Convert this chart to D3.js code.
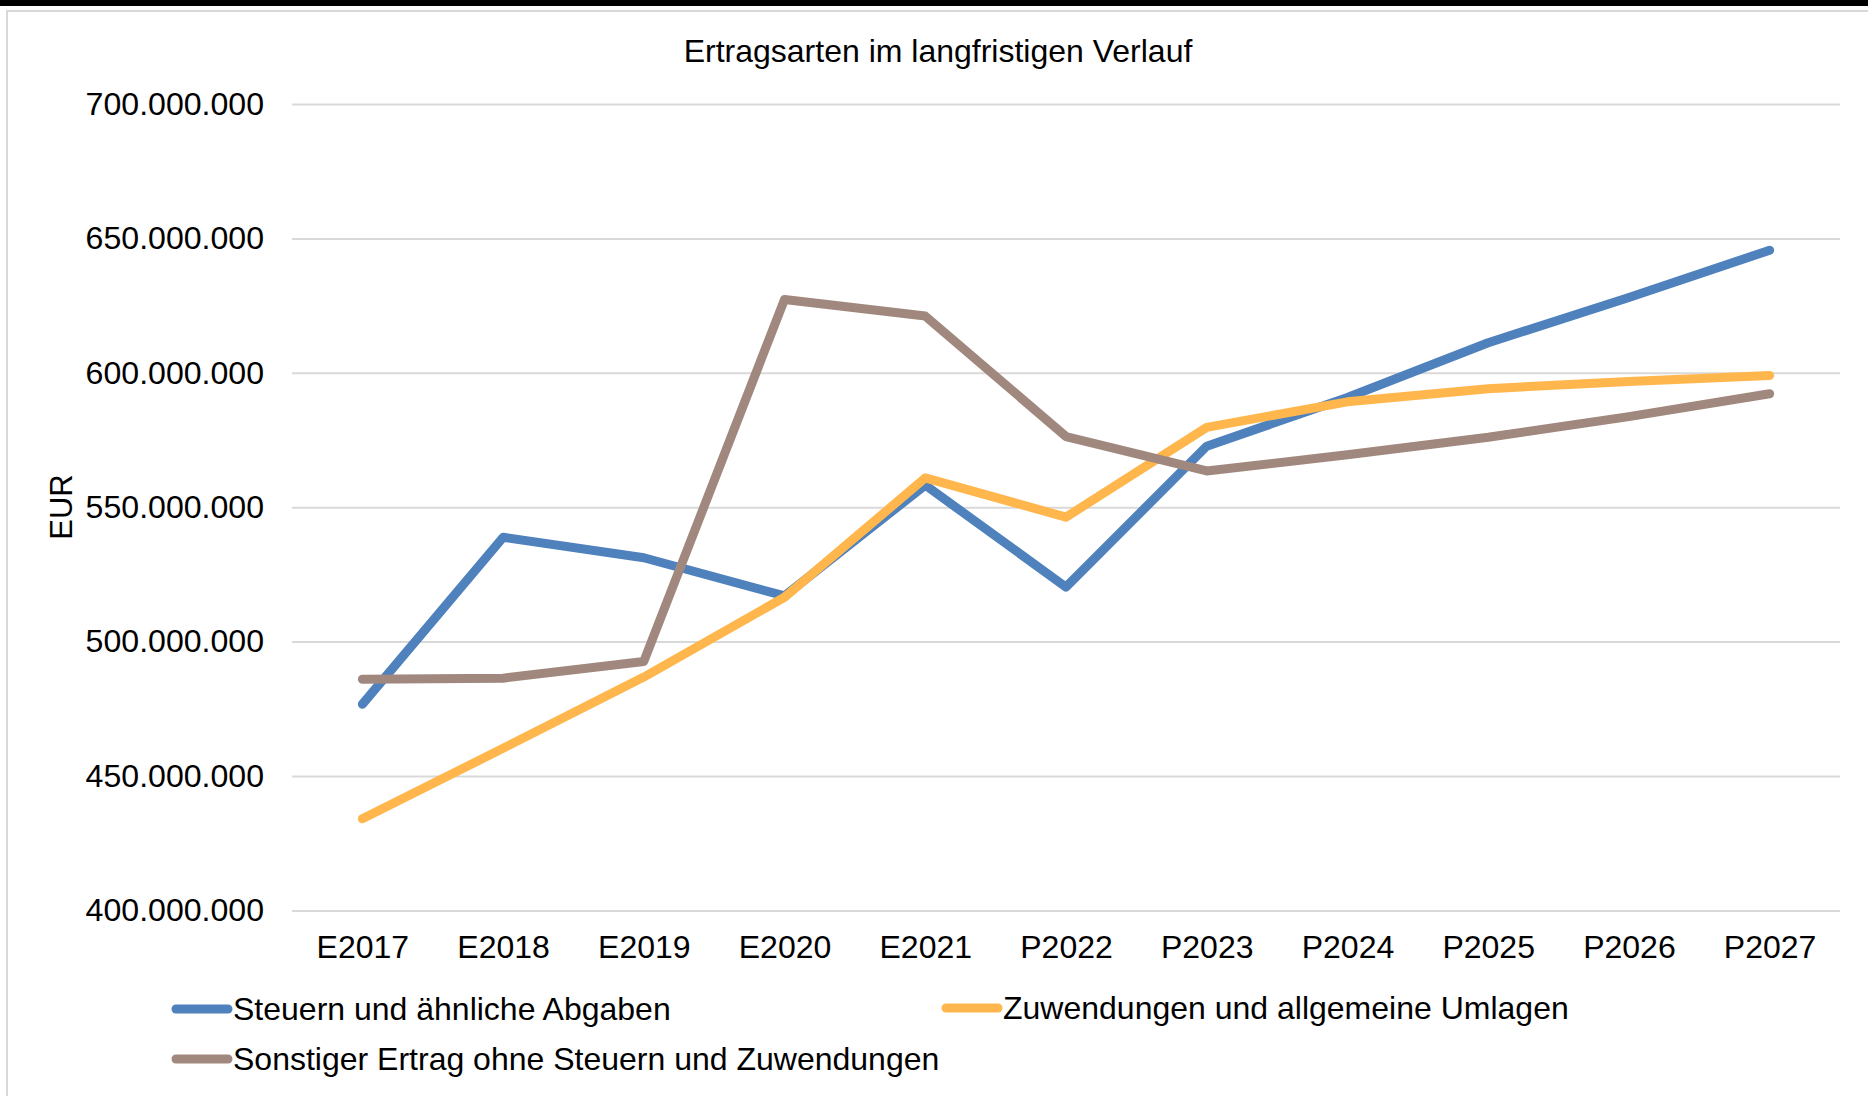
<!DOCTYPE html>
<html>
<head>
<meta charset="utf-8">
<script src="https://cdn.jsdelivr.net/npm/d3@7"></script>
<style>
  body { margin: 0; background: #fff; }
  text { font-family: "Liberation Sans", Arial, sans-serif; fill: #000; }
</style>
</head>
<body>
<div id="chart"></div>
<script>
// Kategorien (E = Ergebnis, P = Plan)
const years = ["E2017", "E2018", "E2019", "E2020", "E2021", "P2022", "P2023", "P2024", "P2025", "P2026", "P2027"];

// Werte in EUR
const steuern = [476.7e6, 538.8e6, 531.2e6, 517.0e6, 558.2e6, 520.3e6, 572.7e6, 590.8e6, 611.2e6, 628.0e6, 645.6e6];
const zuwendungen = [434.1e6, 460.3e6, 486.8e6, 516.5e6, 560.9e6, 546.3e6, 579.7e6, 589.2e6, 594.1e6, 596.8e6, 599.0e6];
const sonstige = [486.0e6, 486.4e6, 492.6e6, 627.3e6, 621.1e6, 576.3e6, 563.5e6, 569.5e6, 576.0e6, 583.7e6, 592.2e6];

const yTicks = [400e6, 450e6, 500e6, 550e6, 600e6, 650e6, 700e6];
const seriesNames = ["Steuern und ähnliche Abgaben", "Zuwendungen und allgemeine Umlagen", "Sonstiger Ertrag ohne Steuern und Zuwendungen"];
const seriesColors = ["#4f81bd", "#ffb74d", "#a1887f"];

const W = 1868, H = 1096;
const plot = { left: 292, right: 1840, top: 104, bottom: 910.4 };

const svg = d3.select("#chart").append("svg")
    .attr("width", W)
    .attr("height", H);

svg.append("rect").attr("width", W).attr("height", H).attr("fill", "#fff");

// Rahmen + schwarzer Balken oben
svg.append("rect")
    .attr("x", 7).attr("y", 11)
    .attr("width", W + 50).attr("height", H + 50)
    .attr("fill", "none")
    .attr("stroke", "#d9d9d9")
    .attr("stroke-width", 2);
svg.append("rect").attr("x", 0).attr("y", 0).attr("width", W).attr("height", 6).attr("fill", "#000");

const de = d3.formatLocale({ decimal: ",", thousands: ".", grouping: [3], currency: ["", " €"] });
const fmt = de.format(",.0f");

const x = d3.scalePoint()
    .domain(years)
    .range([plot.left, plot.right])
    .padding(0.5);

const y = d3.scaleLinear()
    .domain([400e6, 700e6])
    .range([plot.bottom, plot.top]);

// y-Achse mit Gitterlinien
const yAxis = svg.append("g")
    .attr("transform", `translate(${plot.left},0)`)
    .call(d3.axisLeft(y).tickValues(yTicks).tickFormat(fmt).tickSize(-(plot.right - plot.left)).tickPadding(28));
yAxis.select(".domain").remove();
yAxis.selectAll(".tick line").attr("stroke", "#d9d9d9").attr("stroke-width", 2);
yAxis.selectAll(".tick text")
    .style("font-size", "32.1px")
    .style("font-family", "'Liberation Sans', Arial, sans-serif")
    .attr("fill", "#000");

// x-Achse
const xAxis = svg.append("g")
    .attr("transform", `translate(0,${plot.bottom})`)
    .call(d3.axisBottom(x).tickSize(0).tickPadding(25));
xAxis.select(".domain").remove();
xAxis.selectAll(".tick text")
    .style("font-size", "32px")
    .style("font-family", "'Liberation Sans', Arial, sans-serif")
    .attr("fill", "#000");

// Titel
svg.append("text")
    .attr("x", 938)
    .attr("y", 61.5)
    .attr("text-anchor", "middle")
    .style("font-size", "32px")
    .text("Ertragsarten im langfristigen Verlauf");

// Achsentitel
svg.append("text")
    .attr("transform", "translate(71.5,507) rotate(-90)")
    .attr("text-anchor", "middle")
    .style("font-size", "31px")
    .text("EUR");

// Linien
const allSeries = [steuern, zuwendungen, sonstige];
const line = d3.line()
    .x((d, i) => x(years[i]))
    .y(d => y(d));

allSeries.forEach((s, i) => {
    svg.append("path")
        .datum(s)
        .attr("d", line)
        .attr("fill", "none")
        .attr("stroke", seriesColors[i])
        .attr("stroke-width", 9)
        .attr("stroke-linecap", "round")
        .attr("stroke-linejoin", "round");
});

// Legende
const legendPos = [[172, 1009], [942, 1008], [172, 1059]];
seriesNames.forEach((name, i) => {
    const [lx, ly] = legendPos[i];
    const g = svg.append("g").attr("transform", `translate(${lx},${ly})`);
    g.append("line")
        .attr("x1", 4).attr("x2", 56)
        .attr("y1", 0).attr("y2", 0)
        .attr("stroke", seriesColors[i])
        .attr("stroke-width", 9)
        .attr("stroke-linecap", "round");
    g.append("text")
        .attr("x", 61)
        .attr("y", 11)
        .style("font-size", "32px")
        .text(name);
});
</script>
</body>
</html>
